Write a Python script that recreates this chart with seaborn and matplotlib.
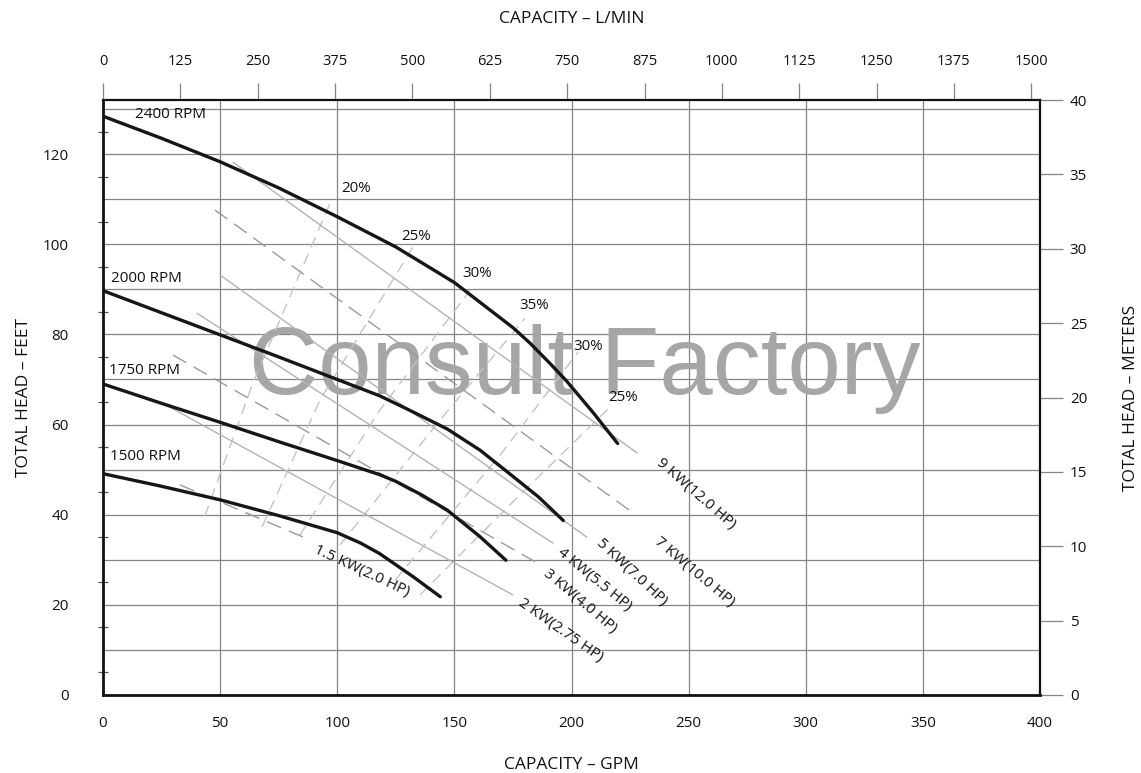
import numpy as np
import pandas as pd
import matplotlib
matplotlib.use("Agg")
import matplotlib.pyplot as plt
import seaborn as sns

# ---------------- data ----------------
rpm_labels = ["2400 RPM", "2000 RPM", "1750 RPM", "1500 RPM"]
gpm_2400 = [0, 25, 50, 75, 100, 125, 150, 175, 182, 190, 198, 209, 219.7]
ft_2400 = [128.4, 123.5, 118.3, 112.5, 106.1, 99.4, 91.5, 81.5, 78.2, 74.0, 69.6, 62.8, 55.8]
gpm_2000 = [0, 25, 50, 75, 100, 118, 130, 147, 161, 175, 186, 196.5]
ft_2000 = [89.7, 84.8, 79.9, 75.0, 70.0, 66.4, 63.4, 59.0, 54.3, 48.5, 43.9, 38.7]
gpm_1750 = [0, 25, 50, 75, 100, 118, 125, 136, 147, 161, 172]
ft_1750 = [69.0, 64.7, 60.5, 56.2, 52.0, 48.9, 47.4, 44.4, 41.0, 35.1, 29.9]
gpm_1500 = [0, 25, 50, 75, 100, 110, 118, 132.5, 144]
ft_1500 = [49.1, 46.3, 43.3, 39.8, 36.0, 33.7, 31.4, 26.2, 21.8]
rpm_label_pos_gpm = [13.7, 3.4, 2.6, 3.0]
rpm_label_pos_ft = [128.7, 92.3, 72.1, 52.8]

# power lines (kW)
power_labels = ["9 KW(12.0 HP)", "7 KW(10.0 HP)", "5 KW(7.0 HP)", "4 KW(5.5 HP)",
                "3 KW(4.0 HP)", "2 KW(2.75 HP)", "1.5 KW(2.0 HP)"]
power_gpm_start = [55.5, 47.8, 49.9, 40.1, 29.9, 25.2, 32.9]
power_ft_start = [118.2, 107.6, 93.2, 84.7, 75.4, 64.8, 46.6]
power_gpm_end = [228.0, 226.3, 206.6, 192.1, 185.3, 175.0, 88.4]
power_ft_end = [53.7, 40.4, 35.0, 33.7, 29.3, 22.2, 34.4]
power_dashed = [False, True, False, False, True, False, True]
power_text_gpm = [239.2, 238.4, 213.8, 196.7, 190.7, 179.8, 91.8]
power_text_ft = [53.2, 35.6, 35.4, 33.2, 28.6, 22.0, 33.8]
power_text_rot = [-41, -40, -43, -39, -40, -35, -25]

# efficiency lines
eff_labels = ["20%", "25%", "30%", "35%", "30%", "25%"]
eff_gpm = [[43.5, 64.0, 96.9], [67.9, 92.6, 132.3], [84.1, 118.2, 156.7],
           [101.2, 143.9, 180.2], [124.7, 169.5, 202.8], [135.3, 178.0, 217.3]]
eff_ft = [[39.7, 69.2, 109.1], [37.3, 65.4, 99.4], [35.5, 63.2, 89.8],
          [33.3, 61.0, 83.6], [25.5, 53.2, 76.1], [22.2, 44.4, 64.3]]
eff_text_gpm = [101.5, 127.5, 153.2, 177.8, 200.7, 215.5]
eff_text_ft = [112.3, 101.8, 93.4, 86.3, 77.4, 66.1]

x_ticks_gpm = list(range(0, 401, 50))
y_ticks_ft = list(range(0, 121, 20))
top_ticks_lpm = list(range(0, 1501, 125))
right_ticks_m = list(range(0, 41, 5))

# ---------------- style ----------------
sns.set_theme(style="white")
plt.rcParams["font.family"] = ["Open Sans", "DejaVu Sans"]

fig = plt.figure(figsize=(11.41, 7.73), dpi=100)
ax = fig.add_axes([103 / 1141, 1 - 695 / 773, (1040 - 103) / 1141, (695 - 100) / 773])
ax.set_xlim(0, 400)
ax.set_ylim(0, 132)

grid_color = "#858585"
ax.set_xticks(x_ticks_gpm)
ax.set_xticks([25 + 50 * i for i in range(8)], minor=True)
ax.set_yticks(y_ticks_ft)
ax.set_yticks(list(range(10, 131, 20)), minor=True)
ax.grid(True, which="major", color=grid_color, lw=0.9)
ax.grid(True, which="minor", axis="y", color=grid_color, lw=0.9)
ax.tick_params(axis="x", which="major", length=0, pad=15, labelsize=11, colors="#111")
ax.tick_params(axis="x", which="minor", direction="inout", length=8, width=0.9, color="#333")
ax.tick_params(axis="y", which="major", direction="out", length=21.6, width=0.9,
               color=grid_color, pad=3, labelsize=11, labelcolor="#111")
ax.tick_params(axis="y", which="minor", direction="out", length=15, width=0.9, color=grid_color)
ax.set_xticklabels([str(v) for v in x_ticks_gpm])
ax.set_yticklabels([str(v) for v in y_ticks_ft])
for s in ["left", "bottom"]:
    ax.spines[s].set_linewidth(2.0)
    ax.spines[s].set_color("#111")
for s in ["top", "right"]:
    ax.spines[s].set_linewidth(1.6)
    ax.spines[s].set_color("#111")
ax.set_xlabel("CAPACITY – GPM", fontsize=12.5, labelpad=19, color="#111")
ax.set_ylabel("TOTAL HEAD – FEET", fontsize=12.5, labelpad=8, color="#111")

# extra left 5-ft ticks
sec_l = ax.secondary_yaxis("left")
sec_l.set_yticks(list(range(5, 131, 10)))
sec_l.tick_params(direction="inout", length=7, width=0.9, color="#555", labelleft=False)
for sp in sec_l.spines.values():
    sp.set_visible(False)

# top L/MIN axis
sec_t = ax.secondary_xaxis("top", functions=(lambda g: g * 3.785, lambda l: l / 3.785))
sec_t.set_xticks(top_ticks_lpm)
sec_t.set_xticklabels([str(v) for v in top_ticks_lpm])
sec_t.tick_params(direction="out", length=12.5, width=0.9, color=grid_color, pad=10,
                  labelsize=10.5, labelcolor="#111")
sec_t.set_xlabel("CAPACITY – L/MIN", fontsize=12.5, labelpad=22, color="#111")
for sp in sec_t.spines.values():
    sp.set_visible(False)

# right meters axis
sec_r = ax.secondary_yaxis("right", functions=(lambda f: f / 3.3, lambda m: m * 3.3))
sec_r.set_yticks(right_ticks_m)
sec_r.set_yticklabels([str(v) for v in right_ticks_m])
sec_r.tick_params(direction="out", length=16.5, width=0.9, color=grid_color, pad=5,
                  labelsize=11, labelcolor="#111")
sec_r.set_ylabel("TOTAL HEAD – METERS", fontsize=12.5, labelpad=26, color="#111")
for sp in sec_r.spines.values():
    sp.set_visible(False)

# watermark
ax.text(0.5 * (251 + 918) / 1141, 1 - 394 / 773, "Consult Factory", transform=fig.transFigure,
        fontsize=69, color="#a6a6a6", ha="center", va="baseline",
        family=["Liberation Sans", "DejaVu Sans"], zorder=2)

# efficiency lines
for gx, fy, lab, tx, ty in zip(eff_gpm, eff_ft, eff_labels, eff_text_gpm, eff_text_ft):
    sns.lineplot(x=gx, y=fy, ax=ax, color="#c4c4c4", lw=1.0, sort=False, estimator=None, zorder=3)
    ax.lines[-1].set_dashes((8, 5))
    ax.text(tx, ty, lab, fontsize=10.8, color="#111", ha="left", va="center", zorder=6)

# power lines
for i in range(len(power_labels)):
    xs = [power_gpm_start[i], power_gpm_end[i]]
    ys = [power_ft_start[i], power_ft_end[i]]
    col = "#9a9a9a" if power_dashed[i] else "#b3b3b3"
    sns.lineplot(x=xs, y=ys, ax=ax, color=col, lw=1.0, sort=False, estimator=None, zorder=3)
    if power_dashed[i]:
        ax.lines[-1].set_dashes((11, 6))
    ax.text(power_text_gpm[i], power_text_ft[i], power_labels[i], fontsize=11, color="#111",
            rotation=power_text_rot[i], rotation_mode="anchor", ha="left", va="top", zorder=6)

# pump curves
curves = [(gpm_2400, ft_2400), (gpm_2000, ft_2000), (gpm_1750, ft_1750), (gpm_1500, ft_1500)]
for (gx, fy), lab, lx, ly in zip(curves, rpm_labels, rpm_label_pos_gpm, rpm_label_pos_ft):
    sns.lineplot(x=gx, y=fy, ax=ax, color="#161616", lw=2.4, sort=False, estimator=None, zorder=5)
    ax.lines[-1].set_solid_joinstyle("round")
    ax.text(lx, ly, lab, fontsize=11, color="#111", ha="left", va="center", zorder=6)

fig.savefig("out.png", dpi=100)
